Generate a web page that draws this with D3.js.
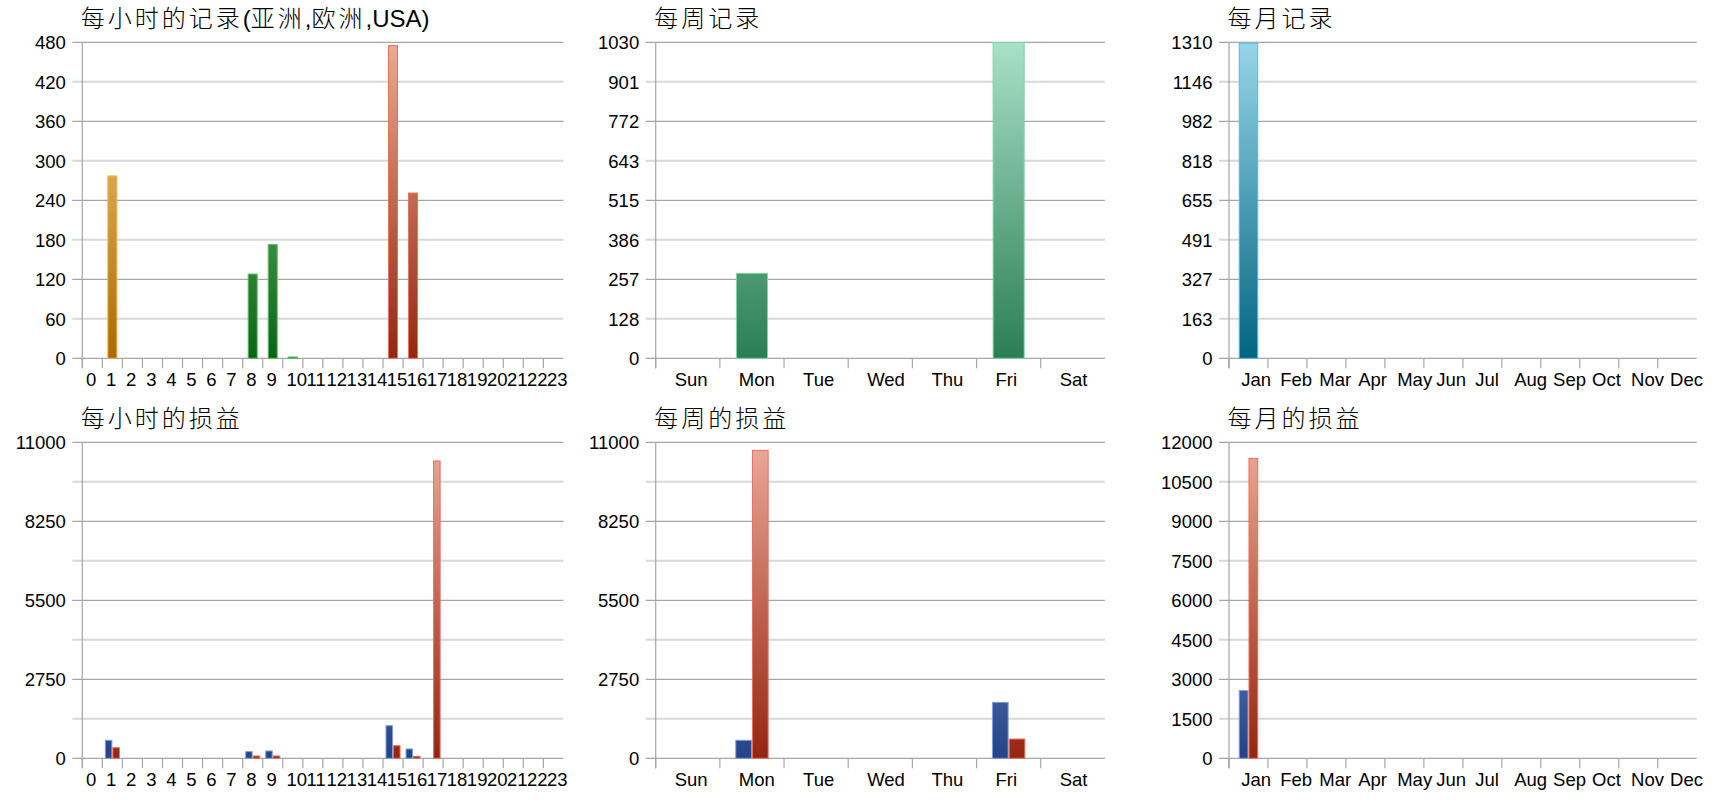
<!DOCTYPE html>
<html>
<head>
<meta charset="utf-8">
<script src="https://cdn.jsdelivr.net/npm/d3@7/dist/d3.min.js"></script>
<style>
  html, body { margin: 0; padding: 0; background: #ffffff; }
  svg { display: block; }
  text { font-family: "Liberation Sans", Arial, "Noto Sans CJK SC", sans-serif; }
</style>
</head>
<body>
<svg id="chart" width="1720" height="800"></svg>
<script>
// ---------------- DATA ----------------
const hours = ["0","1","2","3","4","5","6","7","8","9","10","11","12","13","14","15","16","17","18","19","20","21","22","23"];
const weekdays = ["Sun","Mon","Tue","Wed","Thu","Fri","Sat"];
const months = ["Jan","Feb","Mar","Apr","May","Jun","Jul","Aug","Sep","Oct","Nov","Dec"];

// region of each hour: asia / europe / usa
const hourRegion = ["asia","asia","asia","asia","asia","asia","asia","asia",
                    "europe","europe","europe","europe","europe","europe",
                    "usa","usa","usa","usa","usa","usa","usa","usa","usa","usa"];

const hourlyRecords  = [0,277,0,0,0,0,0,0,128,173,2,0,0,0,0,475,251,0,0,0,0,0,0,0];
const weeklyRecords  = [0,277,0,0,0,1029,0];
const monthlyRecords = [1306,0,0,0,0,0,0,0,0,0,0,0];

const hourlyLossBlue = [0,627,0,0,0,0,0,0,232,255,0,0,0,0,0,1135,324,0,0,0,0,0,0,0];
const hourlyLossRed  = [0,369,0,0,0,0,0,0,81,81,0,0,0,0,0,439,70,10350,0,0,0,0,0,0];
const weeklyLossBlue = [0,627,0,0,0,1946,0];
const weeklyLossRed  = [0,10719,0,0,0,671,0];
const monthlyLossBlue = [2573,0,0,0,0,0,0,0,0,0,0,0];
const monthlyLossRed  = [11390,0,0,0,0,0,0,0,0,0,0,0];

// gridline values (bottom to top) and their labels
const hourRecTicks   = [0,60,120,180,240,300,360,420,480];
const hourRecLabels  = ["0","60","120","180","240","300","360","420","480"];
const weekRecTicks   = [0,128.75,257.5,386.25,515,643.75,772.5,901.25,1030];
const weekRecLabels  = ["0","128","257","386","515","643","772","901","1030"];
const monthRecTicks  = [0,163.75,327.5,491.25,655,818.75,982.5,1146.25,1310];
const monthRecLabels = ["0","163","327","491","655","818","982","1146","1310"];
const lossTicks11    = [0,1375,2750,4125,5500,6875,8250,9625,11000];
const lossLabels11   = ["0","","2750","","5500","","8250","","11000"];
const lossTicks12    = [0,1500,3000,4500,6000,7500,9000,10500,12000];
const lossLabels12   = ["0","1500","3000","4500","6000","7500","9000","10500","12000"];

const titles = ["每小时的记录(亚洲,欧洲,USA)","每周记录","每月记录","每小时的损益","每周的损益","每月的损益"];

// ---------------- STYLE / LAYOUT ----------------
const palette = {
  asia:   {bottom:"#ad6800", top:"#fcd28a", stroke:"#f0b448"},
  europe: {bottom:"#0b6312", top:"#8fd08f", stroke:"#5cbf6a"},
  usa:    {bottom:"#952510", top:"#eca999", stroke:"#e8705c"},
  teal:   {bottom:"#2a7e55", top:"#a9e1c5", stroke:"#80d4aa"},
  cyan:   {bottom:"#036580", top:"#97d6e8", stroke:"#5bbad8"},
  blue:   {bottom:"#244388", top:"#9ab2ee", stroke:"#7f9fe0"},
  red:    {bottom:"#952510", top:"#eca999", stroke:"#e8705c"}
};

const cols = [
  {ax:82.3,  right:563.4,  labelOff:3.7},
  {ax:655.7, right:1104.9, labelOff:19},
  {ax:1229,  right:1696.7, labelOff:12.3}
];
const rows = [
  {top:42.3,  zero:358.3, titleY:27,  labelY:386},
  {top:442.3, zero:758.3, titleY:427, labelY:786}
];

const svg = d3.select("#chart");
svg.append("rect").attr("width",1720).attr("height",800).attr("fill","#fff");
const defs = svg.append("defs");
let gradId = 0;

function gradient(colorKey, row) {
  const c = palette[colorKey];
  const id = "g" + (gradId++);
  const g = defs.append("linearGradient").attr("id", id)
    .attr("gradientUnits","userSpaceOnUse")
    .attr("x1",0).attr("x2",0).attr("y1",row.zero).attr("y2",row.top);
  g.append("stop").attr("offset","0%").attr("stop-color",c.bottom);
  g.append("stop").attr("offset","100%").attr("stop-color",c.top);
  return "url(#" + id + ")";
}

function drawTitle(g, x, y, str) {
  const t = g.append("text").attr("x", x).attr("y", y)
    .attr("font-size", 24).attr("fill", "#000");
  const runs = str.match(/[\u4e00-\u9fff]+|[^\u4e00-\u9fff]+/g);
  runs.forEach(r => {
    const cjk = /[\u4e00-\u9fff]/.test(r);
    t.append("tspan")
      .attr("font-family", cjk ? "\"Noto Sans CJK SC\", sans-serif" : "\"Liberation Sans\", Arial, sans-serif")
      .attr("font-weight", cjk ? 300 : 400)
      .attr("letter-spacing", cjk ? 3 : 0)
      .text(r);
  });
}

function drawChart(opts) {
  const col = cols[opts.col], row = rows[opts.row];
  const g = svg.append("g");
  const x = d3.scaleBand().domain(opts.cats).range([col.ax, col.right]).paddingInner(0).paddingOuter(0);
  const y = d3.scaleLinear().domain([0, d3.max(opts.ticks)]).range([row.zero, row.top]);

  drawTitle(g, col.ax - 1.5, row.titleY, opts.title);

  // gridlines (alternate dark / light from top)
  const n = opts.ticks.length;
  g.selectAll(".grid").data(opts.ticks).join("line")
    .attr("x1", col.ax - 10).attr("x2", col.right)
    .attr("y1", d => y(d)).attr("y2", d => y(d))
    .attr("stroke", (d,i) => ((n-1-i) % 2 === 0) ? "#a6a6a6" : "#d8d8d8")
    .attr("stroke-width", (d,i) => ((n-1-i) % 2 === 0) ? 1.2 : 2);

  // y axis labels via d3 axis
  const yAxis = d3.axisLeft(y).tickValues(opts.ticks)
    .tickFormat((d,i) => opts.labels[i]).tickSize(10).tickPadding(6.5);
  const ya = g.append("g").attr("transform", `translate(${col.ax},0)`).call(yAxis);
  ya.select(".domain").remove();
  ya.selectAll(".tick line").remove();
  ya.selectAll(".tick text").attr("font-size", 18.5).attr("fill", "#000")
    .attr("font-family", "\"Liberation Sans\", Arial, sans-serif").attr("dy", "0.35em");

  // y axis line
  g.append("line").attr("x1", col.ax).attr("x2", col.ax)
    .attr("y1", row.top).attr("y2", row.zero + 10)
    .attr("stroke", "#a6a6a6").attr("stroke-width", 1.2);

  // category ticks
  g.selectAll(".ctick").data(opts.cats).join("line")
    .attr("x1", d => x(d)).attr("x2", d => x(d))
    .attr("y1", row.zero).attr("y2", row.zero + 10)
    .attr("stroke", "#a6a6a6").attr("stroke-width", 1.2);

  // category labels
  g.selectAll(".clabel").data(opts.cats).join("text")
    .attr("x", d => x(d) + col.labelOff).attr("y", row.labelY)
    .attr("font-size", 18.5).attr("fill", "#000")
    .attr("font-family", "\"Liberation Sans\", Arial, sans-serif")
    .text(d => d);

  // bars
  const bw = x.bandwidth();
  const groupW = bw * opts.groupFrac;
  const sub = d3.scaleBand().domain(d3.range(opts.series.length)).range([0, groupW]);
  opts.series.forEach((s, si) => {
    const fills = {};
    const data = opts.cats.map((c, i) => ({cat: c, v: s.values[i], color: s.colorOf(i)}))
      .filter(d => d.v > 0);
    data.forEach(d => { if (!fills[d.color]) fills[d.color] = gradient(d.color, row); });
    g.selectAll(null).data(data).join("rect")
      .attr("x", d => x(d.cat) + (bw - groupW) / 2 + sub(si) + 0.5)
      .attr("width", sub.bandwidth() - 1)
      .attr("y", d => y(d.v))
      .attr("height", d => Math.max(0.5, y(0) - y(d.v)))
      .attr("fill", d => fills[d.color])
      .attr("stroke", d => palette[d.color].stroke)
      .attr("stroke-width", 1);
  });
}

drawChart({col:0,row:0,title:titles[0],cats:hours,ticks:hourRecTicks,labels:hourRecLabels,groupFrac:0.5,
  series:[{values:hourlyRecords,colorOf:i=>hourRegion[i]}]});
drawChart({col:1,row:0,title:titles[1],cats:weekdays,ticks:weekRecTicks,labels:weekRecLabels,groupFrac:0.5,
  series:[{values:weeklyRecords,colorOf:()=>"teal"}]});
drawChart({col:2,row:0,title:titles[2],cats:months,ticks:monthRecTicks,labels:monthRecLabels,groupFrac:0.5,
  series:[{values:monthlyRecords,colorOf:()=>"cyan"}]});
drawChart({col:0,row:1,title:titles[3],cats:hours,ticks:lossTicks11,labels:lossLabels11,groupFrac:0.75,
  series:[{values:hourlyLossBlue,colorOf:()=>"blue"},{values:hourlyLossRed,colorOf:()=>"red"}]});
drawChart({col:1,row:1,title:titles[4],cats:weekdays,ticks:lossTicks11,labels:lossLabels11,groupFrac:0.52,
  series:[{values:weeklyLossBlue,colorOf:()=>"blue"},{values:weeklyLossRed,colorOf:()=>"red"}]});
drawChart({col:2,row:1,title:titles[5],cats:months,ticks:lossTicks12,labels:lossLabels12,groupFrac:0.5,
  series:[{values:monthlyLossBlue,colorOf:()=>"blue"},{values:monthlyLossRed,colorOf:()=>"red"}]});
</script>
</body>
</html>
